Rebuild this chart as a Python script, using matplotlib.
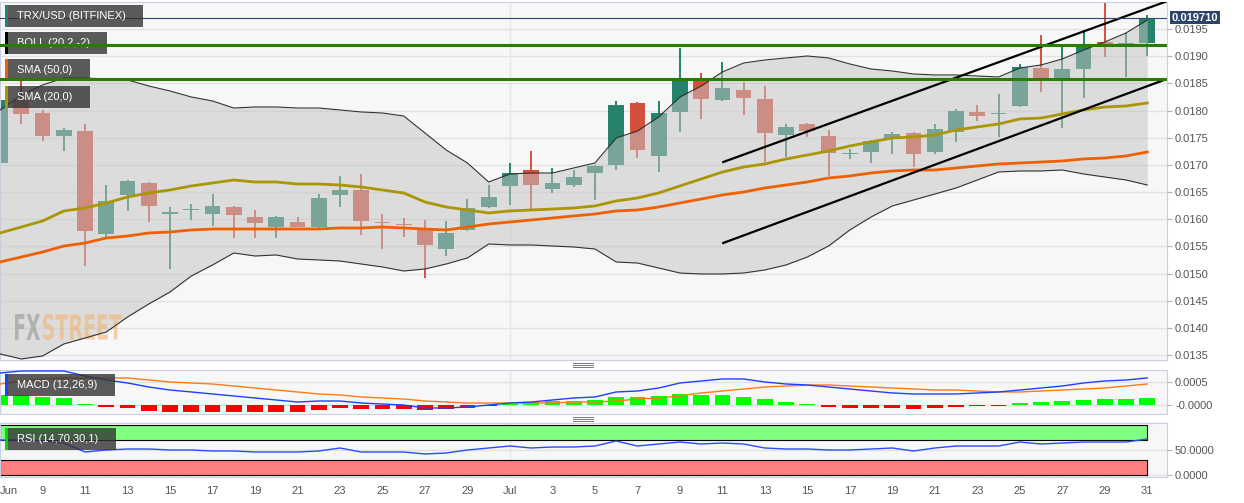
import numpy as np
import pandas as pd
import matplotlib
matplotlib.use('Agg')
import matplotlib.pyplot as plt
import matplotlib.dates as mdates
from matplotlib.patches import Rectangle, PathPatch
from matplotlib.lines import Line2D
from matplotlib.textpath import TextPath
from matplotlib.font_manager import FontProperties
from matplotlib.transforms import Affine2D

plt.rcParams['font.family'] = ['Liberation Sans', 'DejaVu Sans']

# daily TRX/USD candles, Jun 7 - Jul 31
dates = pd.date_range('2020-06-07', '2020-07-31', freq='D')

opens = [0.017034, 0.018194, 0.017954, 0.017531, 0.017623, 0.015727, 0.016445, 0.016666, 0.016095, 0.016160,
         0.016095, 0.016224, 0.016040, 0.015856, 0.015948, 0.015856, 0.016445, 0.016537, 0.015948, 0.015911,
         0.015801, 0.015451, 0.015801, 0.016224, 0.016611, 0.016905, 0.016555, 0.016629, 0.016850, 0.016997,
         0.018138, 0.017163, 0.017973, 0.018562, 0.018194, 0.018378, 0.018212, 0.017549, 0.017752, 0.017531,
         0.017200, 0.017236, 0.017476, 0.017586, 0.017236, 0.017605, 0.017973, 0.017936, 0.018083, 0.018783,
         0.018598, 0.018764, 0.019261, 0.019169, 0.019243]
highs = [0.018250, 0.018562, 0.018009, 0.017678, 0.017752, 0.016629, 0.016720, 0.016680, 0.016224, 0.016279,
         0.016463, 0.016243, 0.016169, 0.016050, 0.016040, 0.016463, 0.016795, 0.016832, 0.016095, 0.016022,
         0.015985, 0.015967, 0.016371, 0.016629, 0.017034, 0.017255, 0.016942, 0.016905, 0.016997, 0.018175,
         0.018157, 0.018175, 0.019151, 0.018691, 0.018893, 0.018525, 0.018451, 0.017752, 0.017770, 0.017641,
         0.017292, 0.017450, 0.017605, 0.017600, 0.017752, 0.018030, 0.018102, 0.018304, 0.018856, 0.019390,
         0.019169, 0.019482, 0.019979, 0.019427, 0.019758]
lows = [0.016868, 0.017752, 0.017439, 0.017255, 0.015138, 0.015672, 0.016151, 0.015948, 0.015083, 0.015985,
        0.015874, 0.015654, 0.015654, 0.015654, 0.015850, 0.015838, 0.016224, 0.015709, 0.015451, 0.015672,
        0.014917, 0.015322, 0.015790, 0.016206, 0.016261, 0.016187, 0.016482, 0.016592, 0.016353, 0.016905,
        0.017126, 0.016868, 0.017605, 0.017844, 0.018170, 0.017917, 0.017052, 0.017144, 0.017513, 0.016795,
        0.017108, 0.017034, 0.017200, 0.016960, 0.017200, 0.017421, 0.017807, 0.017513, 0.018070, 0.018341,
        0.017678, 0.018230, 0.018985, 0.018617, 0.019003]
closes = [0.018194, 0.017936, 0.017531, 0.017641, 0.015782, 0.016335, 0.016703, 0.016243, 0.016132, 0.016178,
          0.016243, 0.016077, 0.015930, 0.016040, 0.015856, 0.016390, 0.016537, 0.015967, 0.015930, 0.015893,
          0.015525, 0.015746, 0.016206, 0.016408, 0.016850, 0.016629, 0.016666, 0.016776, 0.016979, 0.018102,
          0.017273, 0.017954, 0.018562, 0.018212, 0.018414, 0.018230, 0.017586, 0.017697, 0.017623, 0.017218,
          0.017218, 0.017439, 0.017568, 0.017200, 0.017660, 0.017991, 0.017899, 0.017954, 0.018801, 0.018598,
          0.018764, 0.019169, 0.019224, 0.019243, 0.019710]

boll_upper = [0.018010, 0.018286, 0.018470, 0.018598, 0.018598, 0.018580, 0.018562, 0.018451, 0.018359, 0.018249,
              0.018175, 0.018046, 0.018065, 0.018065, 0.018046, 0.018046, 0.018010, 0.017973, 0.017954, 0.017899,
              0.017586, 0.017273, 0.017034, 0.016684, 0.016832, 0.016850, 0.016850, 0.016942, 0.017034, 0.017494,
              0.017623, 0.017880, 0.018249, 0.018451, 0.018709, 0.018874, 0.018930, 0.018967, 0.019003, 0.018967,
              0.018856, 0.018764, 0.018727, 0.018672, 0.018654, 0.018654, 0.018635, 0.018617, 0.018782, 0.018838,
              0.018948, 0.019114, 0.019261, 0.019427, 0.019666]
boll_lower = [0.013519, 0.013427, 0.013482, 0.013703, 0.013813, 0.013924, 0.014200, 0.014439, 0.014660, 0.014954,
              0.015157, 0.015377, 0.015322, 0.015341, 0.015267, 0.015249, 0.015230, 0.015175, 0.015120, 0.015046,
              0.015083, 0.015175, 0.015286, 0.015543, 0.015525, 0.015525, 0.015506, 0.015488, 0.015451, 0.015212,
              0.015193, 0.015101, 0.015009, 0.014991, 0.014991, 0.015009, 0.015065, 0.015157, 0.015304, 0.015506,
              0.015801, 0.016040, 0.016243, 0.016353, 0.016463, 0.016574, 0.016721, 0.016868, 0.016887, 0.016887,
              0.016905, 0.016832, 0.016776, 0.016721, 0.016629]
sma20 = [0.015746, 0.015856, 0.015967, 0.016151, 0.016206, 0.016298, 0.016408, 0.016482, 0.016537, 0.016611,
         0.016666, 0.016721, 0.016684, 0.016684, 0.016647, 0.016647, 0.016629, 0.016592, 0.016537, 0.016482,
         0.016316, 0.016224, 0.016169, 0.016114, 0.016151, 0.016169, 0.016187, 0.016206, 0.016243, 0.016335,
         0.016390, 0.016482, 0.016611, 0.016739, 0.016868, 0.016960, 0.017016, 0.017108, 0.017181, 0.017255,
         0.017347, 0.017421, 0.017494, 0.017513, 0.017549, 0.017641, 0.017697, 0.017752, 0.017844, 0.017862,
         0.017936, 0.018010, 0.018065, 0.018083, 0.018138]
sma50 = [0.015212, 0.015304, 0.015396, 0.015506, 0.015561, 0.015654, 0.015690, 0.015746, 0.015764, 0.015801,
         0.015819, 0.015819, 0.015819, 0.015819, 0.015819, 0.015819, 0.015838, 0.015838, 0.015856, 0.015838,
         0.015819, 0.015801, 0.015856, 0.015911, 0.015948, 0.015985, 0.016022, 0.016059, 0.016095, 0.016151,
         0.016169, 0.016224, 0.016298, 0.016371, 0.016445, 0.016500, 0.016574, 0.016629, 0.016684, 0.016758,
         0.016795, 0.016850, 0.016887, 0.016905, 0.016905, 0.016942, 0.016979, 0.017016, 0.017034, 0.017052,
         0.017071, 0.017108, 0.017126, 0.017163, 0.017236]

macd = [0.000695, 0.000739, 0.000739, 0.000739, 0.000629, 0.000542, 0.000476, 0.000388, 0.000322, 0.000279,
        0.000235, 0.000191, 0.000147, 0.000103, 0.000059, 0.000081, 0.000081, 0.000037, 0.000015, -0.000007,
        -0.000072, -0.000072, -0.000050, -0.000007, 0.000037, 0.000059, 0.000103, 0.000147, 0.000169, 0.000279,
        0.000300, 0.000366, 0.000476, 0.000520, 0.000564, 0.000564, 0.000498, 0.000454, 0.000432, 0.000388,
        0.000344, 0.000300, 0.000257, 0.000235, 0.000235, 0.000235, 0.000257, 0.000279, 0.000322, 0.000366,
        0.000410, 0.000476, 0.000520, 0.000542, 0.000586]
signal = [0.000454, 0.000520, 0.000564, 0.000586, 0.000586, 0.000586, 0.000586, 0.000542, 0.000498, 0.000476,
          0.000454, 0.000410, 0.000366, 0.000322, 0.000279, 0.000235, 0.000213, 0.000169, 0.000147, 0.000125,
          0.000081, 0.000059, 0.000037, 0.000037, 0.000037, 0.000037, 0.000037, 0.000059, 0.000059, 0.000081,
          0.000125, 0.000147, 0.000191, 0.000257, 0.000300, 0.000344, 0.000388, 0.000410, 0.000432, 0.000432,
          0.000410, 0.000388, 0.000366, 0.000344, 0.000322, 0.000322, 0.000300, 0.000279, 0.000279, 0.000300,
          0.000322, 0.000344, 0.000366, 0.000410, 0.000454]
hist = [0.000205, 0.000219, 0.000168, 0.000146, 0.000005, -0.000058, -0.000080, -0.000132, -0.000154, -0.000168,
        -0.000170, -0.000170, -0.000170, -0.000170, -0.000154, -0.000117, -0.000080, -0.000095, -0.000095, -0.000095,
        -0.000117, -0.000102, -0.000066, -0.000029, 0.000015, 0.000050, 0.000073, 0.000088, 0.000110, 0.000168,
        0.000168, 0.000190, 0.000227, 0.000219, 0.000212, 0.000175, 0.000117, 0.000058, 0.000022, -0.000044,
        -0.000080, -0.000080, -0.000080, -0.000102, -0.000080, -0.000044, -0.000029, -0.000022, 0.000029, 0.000058,
        0.000080, 0.000110, 0.000132, 0.000132, 0.000146]
rsi = [70.6, 70.6, 68.6, 64.6, 46.6, 50.6, 52.6, 52.6, 50.6, 50.6,
       48.6, 48.6, 46.6, 46.6, 46.6, 48.6, 54.6, 46.6, 46.6, 46.6,
       42.6, 44.6, 50.6, 54.6, 58.6, 54.6, 56.6, 56.6, 58.6, 68.6,
       58.6, 62.6, 66.6, 62.6, 64.6, 62.6, 54.6, 52.6, 52.6, 50.6,
       50.6, 52.6, 54.6, 48.6, 54.6, 58.6, 58.6, 58.6, 66.6, 62.6,
       64.6, 66.6, 66.6, 66.6, 72.6]
rsi_levels = [30, 70]

# drawn studies
support_levels = [0.019204, 0.018580]
last_price = 0.019710
upper_trend_dates = ['2020-07-11 01:00', '2020-07-31 22:00']
upper_trend_prices = [0.017052, 0.020010]
lower_trend_dates = ['2020-07-11 01:00', '2020-07-31 22:00']
lower_trend_prices = [0.015562, 0.018580]

price_ticks = [0.0135, 0.0140, 0.0145, 0.0150, 0.0155, 0.0160, 0.0165, 0.0170,
               0.0175, 0.0180, 0.0185, 0.0190, 0.0195]
x_labels = ['Jun', '9', '11', '13', '15', '17', '19', '21', '23', '25', '27', '29',
            'Jul', '3', '5', '7', '9', '11', '13', '15', '17', '19', '21', '23', '25', '27', '29', '31']

W, H = 1244, 503
fig = plt.figure(figsize=(W / 100, H / 100), dpi=100, facecolor='white')


def fig_box(x0, y0, x1, y1):
    # pixel box, top-left origin -> figure fraction rect
    return [x0 / W, 1 - y1 / H, (x1 - x0) / W, (y1 - y0) / H]


ax = fig.add_axes(fig_box(0, 2, 1167, 360))
ax2 = fig.add_axes(fig_box(0, 370, 1167, 414))
ax3 = fig.add_axes(fig_box(0, 423, 1167, 477))

x = mdates.date2num(dates)
xlim = (x[0] - 0.005, x[0] + 54.93)

for a in (ax, ax2, ax3):
    a.set_facecolor('#f7f7f7')
    for s in a.spines.values():
        s.set_color('#c8d0e2')
    a.yaxis.tick_right()
    a.tick_params(axis='y', colors='#555555', labelsize=8, length=3.6, width=0.8, pad=2.2)
    a.tick_params(axis='y', color='#aab2c4')
    a.set_axisbelow(True)
    a.axvline(x[24], color='#e6e6e6', lw=1, zorder=0)
    a.grid(axis='y', color='#e2e2e2', lw=1)

# --- main price panel
up = np.array(closes) >= np.array(opens)
cols = np.where(up, '#26826d', '#d4503e')
ax.vlines(x, lows, highs, colors=cols, lw=1.4, zorder=2)
body_lo = np.minimum(opens, closes)
body_h = np.maximum(np.abs(np.subtract(closes, opens)), 1.5e-5)
ax.bar(x, body_h, bottom=body_lo, width=0.74, color=cols, zorder=2.1)

ax.fill_between(x, boll_lower, boll_upper, color='#c4c4c4', alpha=0.53, lw=0, zorder=3)
ax.plot(x, boll_upper, color='#333333', lw=0.8, zorder=4)
ax.plot(x, boll_lower, color='#333333', lw=0.8, zorder=4)
ax.plot(x, sma50, color='#f05f00', lw=2.0, zorder=5)
ax.plot(x, sma20, color='#aa9600', lw=2.0, zorder=5)

ax.plot(mdates.date2num(pd.to_datetime(upper_trend_dates)), upper_trend_prices, color='black', lw=1.6, zorder=6)
ax.plot(mdates.date2num(pd.to_datetime(lower_trend_dates)), lower_trend_prices, color='black', lw=1.6, zorder=6)
ax.axhline(last_price, color='#33456e', lw=0.8, zorder=6)
for lvl in support_levels:
    ax.axhline(lvl, color='#2a7d00', lw=2.2, zorder=7)

ax.annotate(f'{last_price:.6f}', xy=(1, last_price), xycoords=('axes fraction', 'data'),
            xytext=(5, 0), textcoords='offset pixels', color='white', fontsize=8,
            fontweight='bold', va='center', ha='left', annotation_clip=False, zorder=10,
            bbox=dict(boxstyle='square,pad=0.15', fc='#2c4468', ec='none'))


def label_box(a, x0, y0, x1, y1, text, strip):
    a.add_patch(Rectangle((x0 / W, 1 - y1 / H), (x1 - x0) / W, (y1 - y0) / H, transform=fig.transFigure,
                          fc='#333333', alpha=0.8, lw=0, zorder=6.5, clip_on=False))
    a.add_patch(Rectangle((x0 / W, 1 - y1 / H), 3 / W, (y1 - y0) / H, transform=fig.transFigure,
                          fc=strip, lw=0, zorder=6.6, clip_on=False))
    a.text((x0 + 12) / W, 1 - (y0 + y1) / 2 / H, text, transform=fig.transFigure, color='white',
           fontsize=8, va='center', ha='left', zorder=6.7)


label_box(ax, 5, 5, 143, 27, 'TRX/USD (BITFINEX)', '#26826d')
label_box(ax, 5, 32, 107, 54, 'BOLL (20,2,-2)', 'black')
label_box(ax, 5, 59, 90, 81, 'SMA (50,0)', '#f05f00')
label_box(ax, 5, 86, 90, 108, 'SMA (20,0)', '#aa9600')


def stretched_text(a, s, x0, y0, x1, y1, color, alpha):
    tp = TextPath((0, 0), s, size=50, prop=FontProperties(family='DejaVu Sans', weight='bold'))
    ext = tp.get_extents()
    tr = Affine2D().translate(-ext.x0, -ext.y0).scale((x1 - x0) / ext.width, (y1 - y0) / ext.height)
    tr = tr.translate(x0, H - y1)
    a.add_patch(PathPatch(tp, transform=tr, fc=color, ec='none', alpha=alpha, zorder=3.5, clip_on=False))


stretched_text(ax, 'FX', 15, 314, 40, 340, '#9a9a9a', 0.65)
stretched_text(ax, 'STREET', 43, 314, 122, 340, '#f2b46e', 0.6)

ax.set_yticks(price_ticks)
ax.set_yticklabels([f'{t:.4f}' for t in price_ticks])
ax.set_ylim(0.013408, 0.019997)

# --- MACD panel
hcols = np.where(np.array(hist) >= 0, '#00ff00', '#ff0000')
ax2.bar(x, hist, width=0.74, color=hcols, zorder=2)
ax2.plot(x, signal, color='#ff7a1a', lw=1.0, zorder=3)
ax2.plot(x, macd, color='#2040ff', lw=1.0, zorder=3)
ax2.set_yticks([0, 0.0005])
ax2.set_yticklabels(['-0.0000', '0.0005'])
ax2.set_ylim(-0.000204, 0.000761)
label_box(ax2, 5, 374, 115, 396, 'MACD (12,26,9)', '#2040ff')

# --- RSI panel
ax3.add_patch(Rectangle((x[0], rsi_levels[1]), x[-1] - x[0], 100 - rsi_levels[1],
                        fc='#80ff80', ec='black', lw=0.8, zorder=1.5))
ax3.add_patch(Rectangle((x[0], 0), x[-1] - x[0], rsi_levels[0],
                        fc='#ff8080', ec='black', lw=0.8, zorder=1.5))
ax3.plot(x, rsi, color='#2a4bff', lw=1.0, zorder=3)
ax3.set_yticks([0, 50])
ax3.set_yticklabels(['0.0000', '50.0000'])
ax3.set_ylim(-3.4, 104.6)
label_box(ax3, 5, 428, 116, 450, 'RSI (14,70,30,1)', '#00dd00')

for a in (ax, ax2, ax3):
    a.set_xlim(*xlim)
for a in (ax, ax2):
    a.tick_params(axis='x', length=0, labelbottom=False)

ax3.set_xticks(x[::2])
ax3.set_xticklabels(x_labels)
ax3.set_xticks(x, minor=True)
ax3.tick_params(axis='x', which='both', direction='in', length=3, color='#c8d0e2',
                labelsize=8, labelcolor='#555555', pad=6.5)
ax3.get_xticklabels()[0].set_ha('left')

# pane resize handles
for yc in (365, 419):
    for dy in (-2, 0, 2):
        fig.add_artist(Line2D([573 / W, 593 / W], [1 - (yc + dy) / H] * 2, color='#777777', lw=0.7))

fig.savefig('out.png', dpi=100, facecolor='white')
